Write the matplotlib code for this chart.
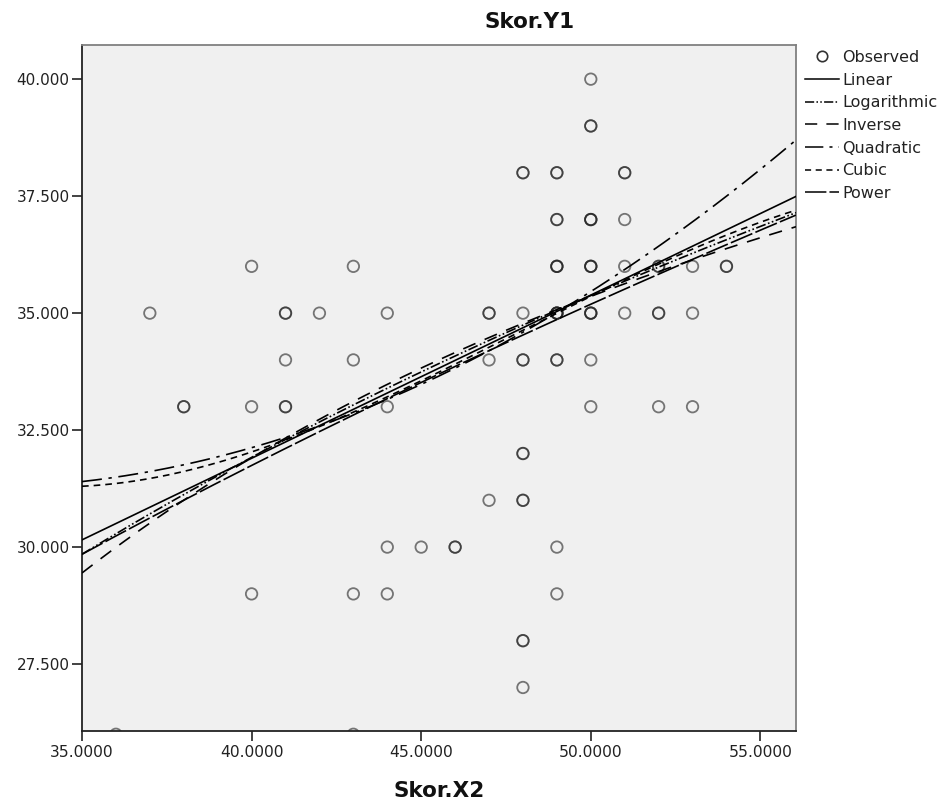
import numpy as np
import matplotlib
matplotlib.use("Agg")
import matplotlib.pyplot as plt
from matplotlib.lines import Line2D

plt.rcParams['font.family'] = ['DejaVu Sans']

# Observed points: x, y, number of overlapping cases
obs_x = [36, 37, 38, 40, 40, 40, 41, 41, 41, 42, 43, 43, 43, 43, 44, 44, 44, 44, 45, 46,
         47, 47, 47, 48, 48, 48, 48, 48, 48, 48, 49, 49, 49, 49, 49, 49, 49,
         50, 50, 50, 50, 50, 50, 50, 51, 51, 51, 51, 52, 52, 52, 53, 53, 53, 54]
obs_y = [26, 35, 33, 36, 33, 29, 35, 34, 33, 35, 36, 34, 29, 26, 35, 33, 30, 29, 30, 30,
         35, 34, 31, 38, 35, 34, 32, 31, 28, 27, 38, 37, 36, 35, 34, 30, 29,
         40, 39, 37, 36, 35, 34, 33, 38, 37, 36, 35, 36, 35, 33, 36, 35, 33, 36]
obs_n = [1, 1, 2, 1, 1, 1, 2, 1, 2, 1, 1, 1, 1, 1, 1, 1, 1, 1, 1, 2,
         2, 1, 1, 2, 1, 2, 2, 2, 2, 1, 2, 2, 3, 4, 2, 1, 1,
         1, 2, 3, 3, 3, 1, 1, 2, 1, 1, 1, 2, 2, 1, 1, 1, 1, 2]

# Model coefficients
linear_coef = [17.95, 0.3487]            # y = b0 + b1*x
log_coef = [-25.26, 15.50]               # y = b0 + b1*ln(x)
inverse_coef = [49.15, -689.6]           # y = b0 + b1/x
quad_coef = [43.951, -0.79907, 0.012585]  # y = b0 + b1*x + b2*x^2
cubic_center = 35.0
cubic_coef = [31.3, 0.03411, 0.025867, -0.00067325]  # in (x - center)
power_coef = [5.781, 0.4617]             # y = b0 * x^b1

x_min, x_max = 35.0, 56.05
y_min, y_max = 26.07, 40.73
x_ticks = [35, 40, 45, 50, 55]
y_ticks = [27.5, 30.0, 32.5, 35.0, 37.5, 40.0]

W, H = 941, 807
fig = plt.figure(figsize=(W / 100, H / 100), dpi=100)
ax = fig.add_axes([82 / W, 1 - 731 / H, (796 - 82) / W, (731 - 45) / H])
ax.set_facecolor('#f0f0f0')

# observed
for x, y, n in zip(obs_x, obs_y, obs_n):
    for _ in range(n):
        ax.scatter([x], [y], s=68, facecolors='none', edgecolors='#222222',
                   linewidths=1.3, alpha=0.6, zorder=3, clip_on=True)

xs = np.linspace(x_min, x_max, 400)
u = xs - cubic_center
curves = [
    ('Linear', linear_coef[0] + linear_coef[1] * xs, '-'),
    ('Logarithmic', log_coef[0] + log_coef[1] * np.log(xs), (0, (6, 1.5, 1, 1.5, 1, 1.5))),
    ('Inverse', inverse_coef[0] + inverse_coef[1] / xs, (0, (8, 6))),
    ('Quadratic', quad_coef[0] + quad_coef[1] * xs + quad_coef[2] * xs ** 2, (0, (12, 4, 2, 4))),
    ('Cubic', cubic_coef[0] + cubic_coef[1] * u + cubic_coef[2] * u ** 2 + cubic_coef[3] * u ** 3,
     (0, (4, 3))),
    ('Power', power_coef[0] * xs ** power_coef[1], (0, (14, 2))),
]
for name, ys, ls in curves:
    ax.plot(xs, ys, color='black', lw=1.2, linestyle=ls, zorder=4)

ax.set_xlim(x_min, x_max)
ax.set_ylim(y_min, y_max)
ax.set_xticks(x_ticks)
ax.set_yticks(y_ticks)
ax.set_xticklabels(['%.4f' % v for v in x_ticks], fontsize=11.2, color='#222222')
ax.set_yticklabels(['%.3f' % v for v in y_ticks], fontsize=11, color='#222222')
ax.tick_params(direction='out', length=7, width=1.2, colors='#222222', pad=2)
ax.tick_params(axis='x', pad=3)
for s in ['left', 'bottom']:
    ax.spines[s].set_color('#222222')
    ax.spines[s].set_linewidth(1.3)
for s in ['top', 'right']:
    ax.spines[s].set_color('#808080')
    ax.spines[s].set_linewidth(1.3)

fig.text(530 / W, 1 - 22 / H, 'Skor.Y1', ha='center', va='center',
         fontsize=15.5, fontweight='bold', color='#111111')
fig.text(439 / W, 1 - 791 / H, 'Skor.X2', ha='center', va='center',
         fontsize=15.5, fontweight='bold', color='#111111')

handles = [Line2D([], [], marker='o', linestyle='none', markerfacecolor='none',
                  markeredgecolor='#333333', markersize=7.5, markeredgewidth=1.2)]
labels = ['Observed']
for name, ys, ls in curves:
    handles.append(Line2D([], [], color='black', lw=1.1, linestyle=ls))
    labels.append(name)
leg = fig.legend(handles, labels, loc='upper left', bbox_to_anchor=(805 / W, 1 - 50 / H),
                 frameon=False, fontsize=11.5, handlelength=2.1, handletextpad=0.25,
                 labelspacing=0.48, borderaxespad=0, borderpad=0)
for t in leg.get_texts():
    t.set_color('#222222')

fig.savefig('out.png', dpi=100, facecolor='white')
